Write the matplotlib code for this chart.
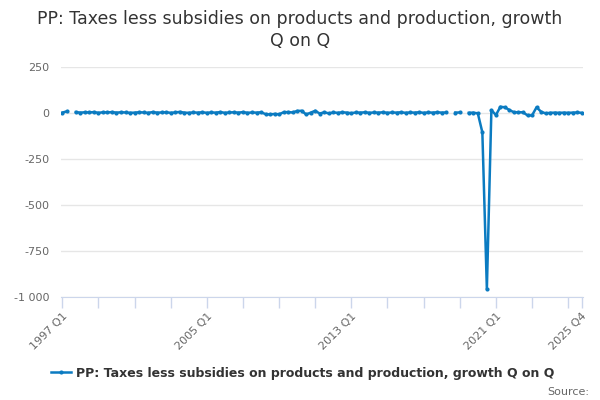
import matplotlib
matplotlib.use("Agg")
import matplotlib.pyplot as plt
import numpy as np

years = list(range(1997, 2026))
quarters = [f"{y} Q{q}" for y in years for q in range(1, 5)]

nan = np.nan
values = [
    2, 9, nan, 5, 2, 4, 3, 5, 1, 4, 3, 5, 2, 4, 3, 1,
    2, 4, 3, 1, 5, 2, 3, 4, 1, 3, 6, 2, 1, 3, 2, 4,
    1, 3, 2, 5, 1, 3, 4, 2, 5, 1, 3, 2, 4, -6, -8, -5,
    -7, 4, 5, 3, 11, 12, -8, 2, 12, -3, 4, -2, 3, 1, 4, 2,
    -1, 3, 2, 4, 1, 3, 2, 4, 1, 3, 2, 4, 1, 3, 2, 4,
    1, 3, 2, 4, 2, 3, nan, 2, 3, nan, 1, 2, -2, -105, -957, 16,
    -11, 34, 31, 16, 4, 4, 4, -13, -13, 31, 7, -2, 1, 2, 1, 2,
    1, 2, 3, 1,
]

series_name = "PP: Taxes less subsidies on products and production, growth Q on Q"
title = "PP: Taxes less subsidies on products and production, growth\nQ on Q"
yticks = [250, 0, -250, -500, -750, -1000]
ytick_labels = ["250", "0", "-250", "-500", "-750", "-1 000"]
xtick_label_quarters = ["1997 Q1", "2005 Q1", "2013 Q1", "2021 Q1", "2025 Q4"]

color = "#0b7bc1"

fig = plt.figure(figsize=(6, 4), dpi=100)
ax = fig.add_axes([60.7 / 600, 1 - 297 / 400, (583.3 - 60.7) / 600, (297 - 67) / 400])

x = np.arange(len(quarters))
ax.plot(x, values, color=color, linewidth=1.8, marker="o", markersize=3.0,
        markeredgewidth=0, label=series_name)

ax.set_xlim(-0.35, len(quarters) - 1 + 0.35)
ax.set_ylim(-1000, 250)
ax.set_yticks(yticks)
ax.set_yticklabels(ytick_labels, fontsize=8, color="#666666")
ax.grid(axis="y", color="#e6e6e6", linewidth=1)
ax.set_axisbelow(True)

minor_ticks = [quarters.index(f"{y} Q1") for y in range(1997, 2026, 2)] + [len(quarters) - 1]
ax.set_xticks(minor_ticks, minor=True)
major_pos = [quarters.index(q) for q in xtick_label_quarters]
ax.set_xticks(major_pos)
ax.set_xticklabels(xtick_label_quarters, fontsize=8, color="#666666")
ax.tick_params(axis="x", which="both", length=8, color="#ccd6eb", width=1,
               labelrotation=45, pad=2)
for lab in ax.get_xticklabels():
    lab.set_horizontalalignment("right")
    lab.set_rotation_mode("anchor")
ax.tick_params(axis="y", length=0, pad=8)

for s in ["top", "right", "left"]:
    ax.spines[s].set_visible(False)
ax.spines["bottom"].set_color("#ccd6eb")

fig.text(0.5, 1 - 30 / 400, title, ha="center", va="center", fontsize=12.5,
         color="#333333", linespacing=1.25)

leg = fig.legend(loc="center", bbox_to_anchor=(0.505, 1 - 373 / 400), frameon=False,
                 prop={"weight": "bold", "size": 9}, handlelength=1.6,
                 handletextpad=0.4)
for t in leg.get_texts():
    t.set_color("#333333")

fig.text(589 / 600, 1 - 392 / 400, "Source:", ha="right", va="center",
         fontsize=8, color="#666666")

fig.savefig("out.png", dpi=100)
